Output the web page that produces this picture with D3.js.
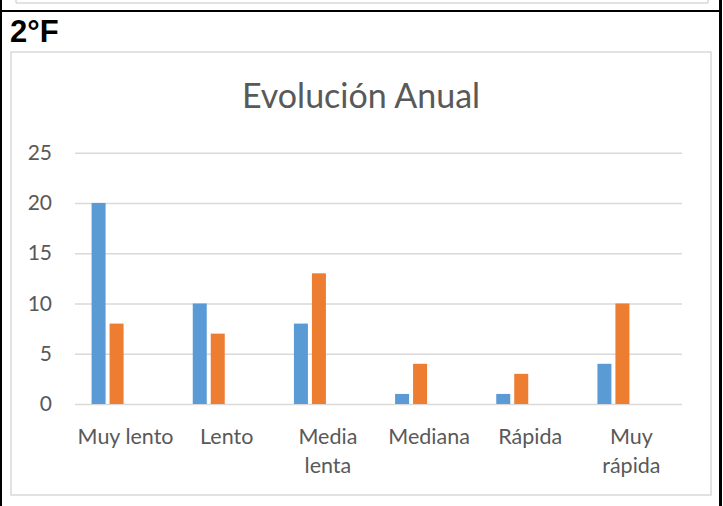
<!DOCTYPE html>
<html>
<head>
<meta charset="utf-8">
<script src="https://cdn.jsdelivr.net/npm/d3@7"></script>
<style>
  html, body { margin: 0; padding: 0; background: #fff; }
  svg { display: block; }
</style>
</head>
<body>
<svg id="chart" width="723" height="506"></svg>
<script>
const categories = ["Muy lento", "Lento", "Media\nlenta", "Mediana", "Rápida", "Muy\nrápida"];
const serie1 = [20, 10, 8, 1, 1, 4];
const serie2 = [8, 7, 13, 4, 3, 10];
const seriesSlots = ["Serie1", "Serie2", "Serie3", "Serie4"]; // Serie3 & Serie4 are empty in the source chart
const yTicks = [0, 5, 10, 15, 20, 25];
const title = "Evolución Anual";
const cellLabel = "2°F";

const svg = d3.select("#chart");
const font = "Lato, 'Open Sans', sans-serif";
const textColor = "#595959";
const gridColor = "#d9d9d9";
const colors = { Serie1: "#5B9BD5", Serie2: "#ED7D31" };

// table frame (document around the chart)
svg.append("line").attr("x1", 16).attr("x2", 708).attr("y1", 3).attr("y2", 3).attr("stroke", "#d9d9d9").attr("stroke-width", 1.5);
svg.append("line").attr("x1", 16).attr("x2", 16).attr("y1", 0).attr("y2", 3).attr("stroke", "#d9d9d9").attr("stroke-width", 1.5);
svg.append("line").attr("x1", 708).attr("x2", 708).attr("y1", 0).attr("y2", 3).attr("stroke", "#d9d9d9").attr("stroke-width", 1.5);
svg.append("rect").attr("x", 0).attr("y", 10).attr("width", 722).attr("height", 2).attr("fill", "#000");
svg.append("rect").attr("x", 0).attr("y", 0).attr("width", 2).attr("height", 506).attr("fill", "#000");
svg.append("rect").attr("x", 719).attr("y", 0).attr("width", 3).attr("height", 506).attr("fill", "#000");

svg.append("text")
  .attr("x", 10).attr("y", 41.5)
  .attr("font-family", "'Liberation Sans', Arial, sans-serif")
  .attr("font-weight", "bold")
  .attr("font-size", 31)
  .attr("fill", "#000")
  .text(cellLabel);

// chart area box
svg.append("rect")
  .attr("x", 11).attr("y", 52).attr("width", 700).attr("height", 443)
  .attr("fill", "#fff").attr("stroke", gridColor).attr("stroke-width", 1.5);

// title
svg.append("text")
  .attr("x", 361).attr("y", 108)
  .attr("text-anchor", "middle")
  .attr("font-family", font)
  .attr("font-size", 34)
  .attr("fill", textColor)
  .text(title);

const plot = { left: 75, right: 682, top: 152.7, bottom: 404 };

const x0 = d3.scaleBand()
  .domain(categories)
  .range([plot.left, plot.right])
  .paddingInner(0).paddingOuter(0);

const groupW = 68;
const x1 = d3.scaleBand()
  .domain(seriesSlots)
  .range([0, groupW])
  .paddingInner(4 / 18).paddingOuter(0);

const y = d3.scaleLinear().domain([0, 25]).range([plot.bottom, plot.top]);

// gridlines
const yAxis = d3.axisLeft(y).tickValues(yTicks).tickSize(-(plot.right - plot.left)).tickPadding(23);
const gy = svg.append("g").attr("transform", `translate(${plot.left},0)`).call(yAxis);
gy.select(".domain").remove();
gy.selectAll(".tick line").attr("stroke", gridColor).attr("stroke-width", 1.5);
gy.selectAll(".tick text")
  .attr("font-family", font).attr("font-size", 21).attr("fill", textColor);

// bars
const data = categories.map((c, i) => ({ cat: c, Serie1: serie1[i], Serie2: serie2[i] }));
const groups = svg.append("g").selectAll("g").data(data).join("g")
  .attr("transform", d => `translate(${x0(d.cat) + (x0.bandwidth() - groupW) / 2},0)`);
groups.selectAll("rect")
  .data(d => ["Serie1", "Serie2"].map(k => ({ key: k, value: d[k] })))
  .join("rect")
  .attr("x", d => x1(d.key))
  .attr("width", x1.bandwidth())
  .attr("y", d => y(d.value))
  .attr("height", d => y(0) - y(d.value))
  .attr("fill", d => colors[d.key]);

// x labels
const xAxis = d3.axisBottom(x0).tickSize(0).tickPadding(0).tickFormat("");
const gx = svg.append("g").attr("transform", `translate(0,${plot.bottom})`).call(xAxis);
gx.select(".domain").remove();
gx.selectAll(".tick").each(function(d) {
  const t = d3.select(this).append("text")
    .attr("text-anchor", "middle")
    .attr("font-family", font).attr("font-size", 21.5).attr("fill", textColor);
  d.split("\n").forEach((line, i) => {
    t.append("tspan").attr("x", 0).attr("y", 39.5 + i * 29).text(line);
  });
});
</script>
</body>
</html>
